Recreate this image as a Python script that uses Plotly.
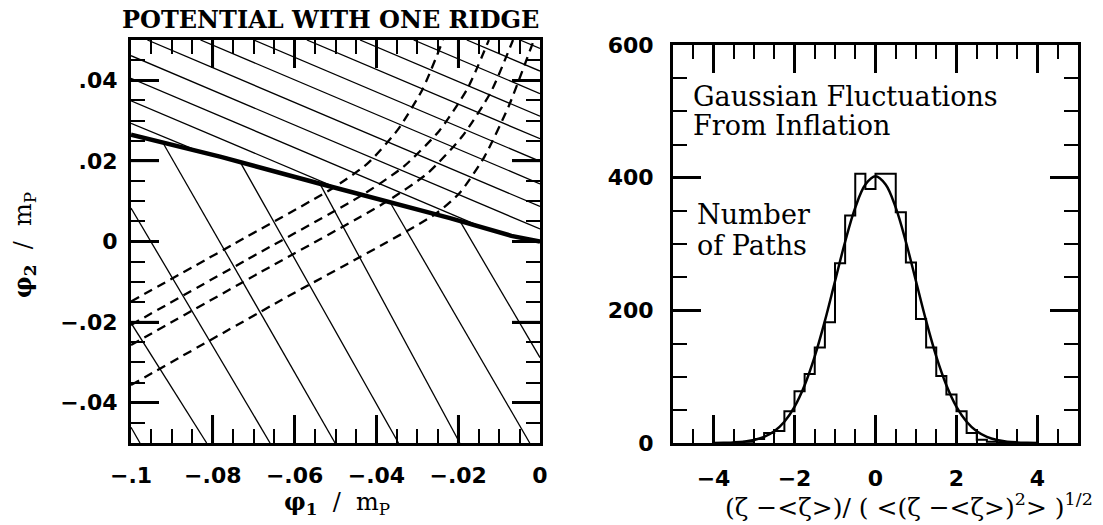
import plotly.graph_objects as go

# ---------------- left panel data ----------------
ridge_x = [-0.1, -0.078, -0.054, -0.040, -0.022, -0.007, 0.0]
ridge_y = [0.0265, 0.0210, 0.0144, 0.0107, 0.0058, 0.0014, 0.0]

# equipotentials above the ridge (segments)
upper_x0 = [-0.1, -0.1, -0.1, -0.1, -0.0960, -0.0830, -0.0700, -0.0570, -0.0440, -0.0309, -0.0179, -0.0049]
upper_y0 = [0.0293, 0.0349, 0.0405, 0.0461, 0.05, 0.05, 0.05, 0.05, 0.05, 0.05, 0.05, 0.05]
upper_x1 = [-0.0828, -0.049, -0.0152, 0.0, 0.0, 0.0, 0.0, 0.0, 0.0, 0.0, 0.0, 0.0]
upper_y1 = [0.0221, 0.0130, 0.0040, 0.0031, 0.0087, 0.0143, 0.0199, 0.0255, 0.0311, 0.0367, 0.0423, 0.0479]

# equipotentials below the ridge (segments)
lower_x0 = [-0.1, -0.1, -0.1, -0.0922, -0.0733, -0.0538, -0.0367, -0.0196]
lower_y0 = [-0.0461, -0.0202, 0.0083, 0.0245, 0.0197, 0.0143, 0.0098, 0.0051]
lower_x1 = [-0.0978, -0.0815, -0.0660, -0.0501, -0.0346, -0.0196, -0.0025, 0.0]
lower_y1 = [-0.05, -0.05, -0.05, -0.05, -0.05, -0.05, -0.05, -0.0288]

# trajectories (dashed)
path_a_x = [-0.1, -0.075, -0.0504, -0.0420, -0.0348, -0.0287, -0.0237]
path_a_y = [-0.0149, -0.0007, 0.0134, 0.0195, 0.0277, 0.0378, 0.05]
path_b_x = [-0.1, -0.072, -0.0435, -0.0332, -0.0246, -0.0177, -0.0125]
path_b_y = [-0.0207, -0.0047, 0.0115, 0.0187, 0.0275, 0.0380, 0.05]
path_c_x = [-0.1, -0.069, -0.0375, -0.0274, -0.0190, -0.0120, -0.0066]
path_c_y = [-0.0257, -0.0080, 0.0099, 0.0170, 0.0261, 0.0371, 0.05]
path_d_x = [-0.1, -0.063, -0.0256, -0.0196, -0.0136, -0.0076, -0.0015]
path_d_y = [-0.0356, -0.0144, 0.0068, 0.0121, 0.0210, 0.0337, 0.05]

left_xticks = [-0.1, -0.08, -0.06, -0.04, -0.02, 0.0]
left_xtext = ["\u2212.1", "\u2212.08", "\u2212.06", "\u2212.04", "\u2212.02", "0"]
left_yticks = [-0.04, -0.02, 0.0, 0.02, 0.04]
left_ytext = ["\u2212.04", "\u2212.02", "0", ".02", ".04"]

# ---------------- right panel data ----------------
bin_left = [-4.0, -3.75, -3.5, -3.25, -3.0, -2.75, -2.5, -2.25, -2.0, -1.75, -1.5, -1.25, -1.0, -0.75,
            -0.5, -0.25, 0.0, 0.25, 0.5, 0.75, 1.0, 1.25, 1.5, 1.75, 2.0, 2.25, 2.5, 2.75, 3.0, 3.25,
            3.5, 3.75, 4.0]
bin_count = [0, 0, 1, 2, 6, 15, 18, 48, 78, 104, 144, 182, 271, 343,
             406, 383, 406, 406, 348, 272, 187, 144, 101, 73, 48, 15, 5, 2, 1, 0,
             0, 0, 0]

curve_x = [-4.0, -3.75, -3.5, -3.25, -3.0, -2.75, -2.5, -2.25, -2.0, -1.75, -1.5, -1.25, -1.0, -0.75,
           -0.5, -0.25, 0.0, 0.25, 0.5, 0.75, 1.0, 1.25, 1.5, 1.75, 2.0, 2.25, 2.5, 2.75, 3.0, 3.25,
           3.5, 3.75, 4.0]
curve_y = [0.1, 0.4, 0.9, 2.0, 4.5, 9.2, 17.6, 32.0, 54.4, 87.0, 130.5, 184.0, 243.8, 303.4,
           354.8, 389.6, 402.0, 389.6, 354.8, 303.4, 243.8, 184.0, 130.5, 87.0, 54.4, 32.0, 17.6, 9.2, 4.5, 2.0,
           0.9, 0.4, 0.1]

right_xticks = [-4, -2, 0, 2, 4]
right_xtext = ["\u22124", "\u22122", "0", "2", "4"]
right_yticks = [0, 200, 400, 600]

W, H = 1103, 525
BLACK = "black"

# panel boxes in pixels (layout only)
L_BOX = (131, 540, 40, 443)     # left, right, top, bottom
R_BOX = (673, 1078, 45, 443)
MAJOR_LEN = 28


def segs(x0, y0, x1, y1):
    xs, ys = [], []
    for a, b, c, d in zip(x0, y0, x1, y1):
        xs += [a, c, None]
        ys += [b, d, None]
    return xs, ys


fig = go.Figure()

ux, uy = segs(upper_x0, upper_y0, upper_x1, upper_y1)
fig.add_trace(go.Scatter(x=ux, y=uy, mode="lines", line=dict(color=BLACK, width=1.3),
                         xaxis="x", yaxis="y", hoverinfo="skip", showlegend=False))
lx, ly = segs(lower_x0, lower_y0, lower_x1, lower_y1)
fig.add_trace(go.Scatter(x=lx, y=ly, mode="lines", line=dict(color=BLACK, width=1.3),
                         xaxis="x", yaxis="y", hoverinfo="skip", showlegend=False))
for px, py in [(path_a_x, path_a_y), (path_b_x, path_b_y), (path_c_x, path_c_y), (path_d_x, path_d_y)]:
    fig.add_trace(go.Scatter(x=px, y=py, mode="lines",
                             line=dict(color=BLACK, width=2.3, dash="9px,6px", shape="spline", smoothing=0.6),
                             xaxis="x", yaxis="y", hoverinfo="skip", showlegend=False))
fig.add_trace(go.Scatter(x=ridge_x, y=ridge_y, mode="lines", line=dict(color=BLACK, width=4.5),
                         xaxis="x", yaxis="y", hoverinfo="skip", showlegend=False))

# right panel
fig.add_trace(go.Scatter(x=bin_left, y=bin_count, mode="lines", line=dict(color=BLACK, width=2, shape="hv"),
                         xaxis="x2", yaxis="y2", hoverinfo="skip", showlegend=False))
fig.add_trace(go.Scatter(x=curve_x, y=curve_y, mode="lines", line=dict(color=BLACK, width=2.5, shape="spline"),
                         xaxis="x2", yaxis="y2", hoverinfo="skip", showlegend=False))

tickfont = dict(family="DejaVu Sans", size=22, color=BLACK, weight="bold")

common = dict(ticks="inside", ticklen=MAJOR_LEN, tickwidth=2.5, tickcolor=BLACK,
              showline=True, linecolor=BLACK, linewidth=3, mirror="ticks",
              showgrid=False, zeroline=False, tickfont=tickfont, automargin=False)


def minor(dt):
    return dict(ticks="inside", ticklen=14, tickwidth=2, tickcolor=BLACK, dtick=dt, tick0=0)


fig.update_layout(
    template="none",
    width=W, height=H, autosize=False,
    margin=dict(l=0, r=0, t=0, b=0, pad=0),
    paper_bgcolor="white", plot_bgcolor="white",
    xaxis=dict(domain=[L_BOX[0] / W, L_BOX[1] / W], range=[-0.1, 0.0], anchor="y",
               tickmode="array", tickvals=left_xticks, ticktext=left_xtext,
               minor=minor(0.005), ticklabelstandoff=11, **common),
    yaxis=dict(domain=[(H - L_BOX[3]) / H, (H - L_BOX[2]) / H], range=[-0.05, 0.05], anchor="x",
               tickmode="array", tickvals=left_yticks, ticktext=left_ytext,
               minor=minor(0.005), ticklabelstandoff=6, **common),
    xaxis2=dict(domain=[R_BOX[0] / W, R_BOX[1] / W], range=[-5, 5], anchor="y2",
                tickmode="array", tickvals=right_xticks, ticktext=right_xtext,
                minor=minor(0.5), ticklabelstandoff=14, **common),
    yaxis2=dict(domain=[(H - R_BOX[3]) / H, (H - R_BOX[2]) / H], range=[0, 600], anchor="x2",
                tickmode="array", tickvals=right_yticks,
                minor=minor(50), ticklabelstandoff=12, **common),
)

# long (major) inside ticks on all four sides, placed at the tick values through the axes
shapes = []
tick_line = dict(color=BLACK, width=2.5)


def add_major(xax, yax, xvals, yvals, box):
    fx = MAJOR_LEN / (box[1] - box[0])
    fy = MAJOR_LEN / (box[3] - box[2])
    for v in xvals:
        for y0, y1 in [(0, fy), (1 - fy, 1)]:
            shapes.append(dict(type="line", xref=xax, yref=yax + " domain", x0=v, x1=v, y0=y0, y1=y1,
                               line=tick_line, layer="above"))
    for v in yvals:
        for x0, x1 in [(0, fx), (1 - fx, 1)]:
            shapes.append(dict(type="line", xref=xax + " domain", yref=yax, x0=x0, x1=x1, y0=v, y1=v,
                               line=tick_line, layer="above"))


add_major("x", "y", left_xticks[1:-1], left_yticks, L_BOX)
add_major("x2", "y2", right_xticks, right_yticks[1:-1], R_BOX)
fig.update_layout(shapes=shapes)

serif = "DejaVu Serif"
big = 27
ann = [
    dict(text="<b>POTENTIAL WITH ONE RIDGE</b>", x=330 / W, y=(H - 19) / H, xref="paper", yref="paper",
         font=dict(family=serif, size=24, color=BLACK)),
    dict(text="<b>\u03c6<sub>2</sub></b>  /  m<sub>P</sub>", x=24 / W, y=(H - 245) / H, xref="paper", yref="paper",
         textangle=-90, font=dict(family=serif, size=24, color=BLACK)),
    dict(text="<b>\u03c6<sub>1</sub></b>  /  m<sub>P</sub>", x=337 / W, y=(H - 503) / H, xref="paper", yref="paper",
         font=dict(family=serif, size=24, color=BLACK)),
    dict(text="(\u03b6 \u2212&lt;\u03b6&gt;)/ ( &lt;(\u03b6 \u2212&lt;\u03b6&gt;)<sup>2</sup>&gt; )<sup>1/2</sup>",
         x=909 / W, y=(H - 505) / H, xref="paper", yref="paper",
         font=dict(family=serif, size=25, color=BLACK)),
    dict(text="Gaussian Fluctuations", x=-4.55, y=522, xref="x2", yref="y2", xanchor="left",
         font=dict(family=serif, size=big, color=BLACK)),
    dict(text="From Inflation", x=-4.55, y=479, xref="x2", yref="y2", xanchor="left",
         font=dict(family=serif, size=big, color=BLACK)),
    dict(text="Number", x=-4.45, y=344, xref="x2", yref="y2", xanchor="left",
         font=dict(family=serif, size=big, color=BLACK)),
    dict(text="of Paths", x=-4.45, y=298, xref="x2", yref="y2", xanchor="left",
         font=dict(family=serif, size=big, color=BLACK)),
]
for a in ann:
    a.setdefault("showarrow", False)
    a.setdefault("xanchor", "center")
    a.setdefault("yanchor", "middle")
fig.update_layout(annotations=ann)

fig.write_html("out.html")
